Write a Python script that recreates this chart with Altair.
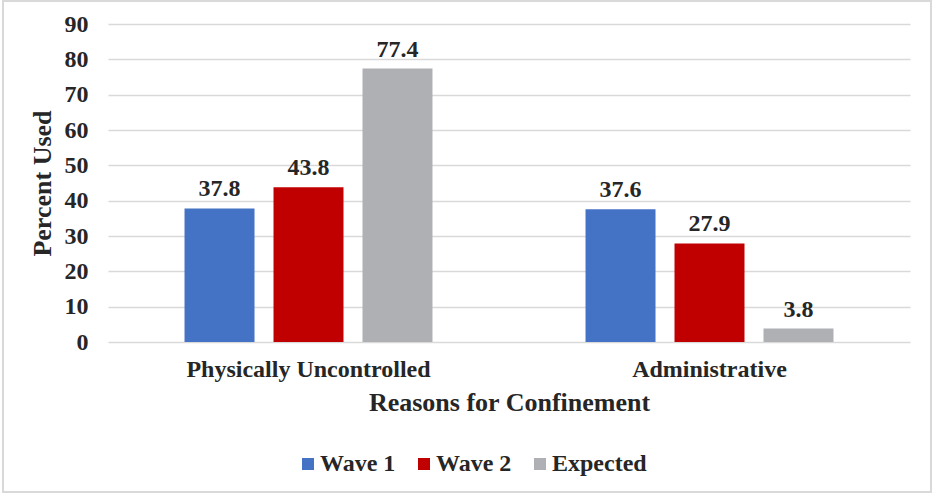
import altair as alt
import pandas as pd

# Reasons for confinement and the share of cases per series
reasons = ["Physically Uncontrolled", "Administrative"]
series = ["Wave 1", "Wave 2", "Expected"]
wave1 = [37.8, 37.6]
wave2 = [43.8, 27.9]
expected = [77.4, 3.8]
colors = ["#4472C4", "#C00000", "#AFB0B4"]
y_ticks = [0, 10, 20, 30, 40, 50, 60, 70, 80, 90]

rows = []
for i, r in enumerate(reasons):
    for s, vals in zip(series, [wave1, wave2, expected]):
        rows.append({"reason": r, "series": s, "value": vals[i]})
df = pd.DataFrame(rows)

FONT = "Liberation Serif"
TEXT = "#262626"

base = alt.Chart(df).encode(
    x=alt.X(
        "reason:N",
        sort=reasons,
        scale=alt.Scale(paddingInner=0, paddingOuter=0),
        axis=alt.Axis(
            title="Reasons for Confinement",
            labelAngle=0,
            labelLimit=0,
            labelFont=FONT,
            labelFontSize=24,
            labelFontWeight="bold",
            labelColor=TEXT,
            labelPadding=15,
            titleFont=FONT,
            titleFontSize=26,
            titleFontWeight="bold",
            titleColor=TEXT,
            titlePadding=8,
            domain=False,
            ticks=False,
        ),
    ),
    xOffset=alt.XOffset(
        "series:N",
        sort=series,
        scale=alt.Scale(paddingInner=0.2135, paddingOuter=0.86),
    ),
    y=alt.Y(
        "value:Q",
        scale=alt.Scale(domain=[0, 90]),
        axis=alt.Axis(
            title="Percent Used",
            values=y_ticks,
            tickCount=10,
            labelOverlap=False,
            labelFont=FONT,
            labelFontSize=24,
            labelFontWeight="bold",
            labelColor=TEXT,
            labelPadding=20,
            titleFont=FONT,
            titleFontSize=26,
            titleFontWeight="bold",
            titleColor=TEXT,
            titlePadding=9,
            domain=False,
            ticks=False,
            grid=True,
            gridColor="#D9D9D9",
            gridWidth=1.5,
        ),
    ),
)

bars = base.mark_bar().encode(
    color=alt.Color(
        "series:N",
        sort=series,
        scale=alt.Scale(domain=series, range=colors),
        legend=alt.Legend(
            title=None,
            orient="none",
            direction="horizontal",
            legendX=188,
            legendY=428,
            padding=0,
            symbolType="square",
            symbolSize=144,
            symbolStrokeWidth=0,
            labelFont=FONT,
            labelFontSize=24,
            labelFontWeight="bold",
            labelColor=TEXT,
            labelOffset=0,
            columnPadding=16,
        ),
    ),
)

labels = base.mark_text(
    font=FONT, fontSize=24, fontWeight="bold", color=TEXT, baseline="alphabetic", dy=-12
).encode(
    text=alt.Text("value:Q", format=".1f"),
)

frame = alt.Chart(df).mark_rect(fill=None, stroke="#D9D9D9", strokeWidth=1.5).encode(
    x=alt.value(-105), x2=alt.value(823), y=alt.value(-23), y2=alt.value(468)
)

chart = (
    alt.layer(bars, labels, frame)
    .properties(
        width=802,
        height=318,
        autosize=alt.AutoSizeParams(type="none"),
        padding={"left": 108, "top": 24, "right": 22, "bottom": 152},
        background="white",
    )
    .configure_view(stroke=None)
)

chart.save("out.html", embed_options={"renderer": "svg", "actions": False})
